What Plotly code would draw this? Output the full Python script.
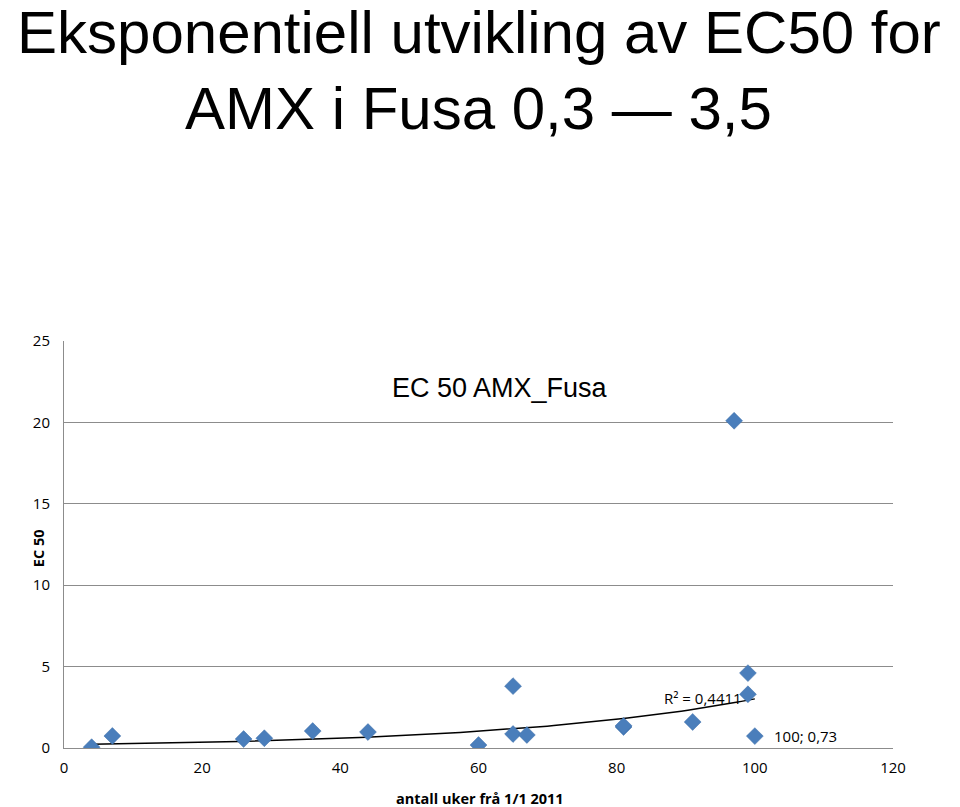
import numpy as np
import plotly.graph_objects as go

# EC50 per week since 1/1 2011
weeks = [4, 7, 26, 29, 36, 44, 60, 65, 65, 67, 81, 81, 91, 97, 99, 99, 100]
ec50 = [0.05, 0.74, 0.55, 0.6, 1.04, 0.98, 0.18, 3.8, 0.86, 0.8, 1.29, 1.36, 1.6, 20.1, 4.6, 3.3, 0.73]

x_ticks = [0, 20, 40, 60, 80, 100, 120]
y_ticks = [0, 5, 10, 15, 20, 25]

# exponential trendline (least squares on ln y, like Excel)
b, ln_a = np.polyfit(weeks, np.log(ec50), 1)
trend_x = np.linspace(min(weeks), max(weeks), 100)
trend_y = np.exp(ln_a) * np.exp(b * trend_x)

fig = go.Figure()
fig.add_trace(go.Scatter(
    x=trend_x, y=trend_y, mode='lines',
    line=dict(color='black', width=1.5), hoverinfo='skip', showlegend=False
))
fig.add_trace(go.Scatter(
    x=weeks, y=ec50, mode='markers',
    marker=dict(symbol='diamond', size=13, color='#4a7ebb',
                line=dict(color='#3f6fa8', width=0.5)),
    showlegend=False
))

title_font = 'Liberation Sans, Arial, sans-serif'

fig.update_layout(
    width=960, height=807,
    paper_bgcolor='white', plot_bgcolor='white',
    margin=dict(l=64, r=67, t=341, b=59, autoexpand=False),
    font=dict(family='Open Sans, sans-serif', size=14, color='black'),
    xaxis=dict(
        range=[0, 120], tickvals=x_ticks, showgrid=False, zeroline=False,
        showline=True, linecolor='#8c8c8c', linewidth=1, ticks='',
        tickfont=dict(size=15), ticklabelstandoff=6,
    ),
    yaxis=dict(
        range=[0, 25], tickvals=y_ticks, showgrid=True, gridcolor='#8c8c8c',
        gridwidth=1, zeroline=False, showline=True, linecolor='#8c8c8c',
        linewidth=1, ticks='', tickfont=dict(size=15), ticklabelstandoff=10,
    ),
    annotations=[
        dict(text='Eksponentiell utvikling av EC50 for', x=0.5, y=30, xref='paper',
             yref='paper', showarrow=False, xanchor='center', yanchor='middle',
             font=dict(family=title_font, size=60, color='black')),
        dict(text='AMX i Fusa 0,3 — 3,5', x=0.5, y=30, xref='paper',
             yref='paper', showarrow=False, xanchor='center', yanchor='middle',
             font=dict(family=title_font, size=60, color='black')),
        dict(text='EC 50 AMX_Fusa', x=0.526, y=0.885, xref='paper', yref='paper',
             showarrow=False, xanchor='center', yanchor='middle',
             font=dict(family=title_font, size=27, color='black')),
        dict(text='R² = 0,4411', x=98.5, y=3.1, xref='x', yref='y',
             showarrow=False, xanchor='right', yanchor='middle',
             font=dict(size=15, color='black')),
        dict(text='100; 0,73', x=102.5, y=0.73, xref='x', yref='y',
             showarrow=False, xanchor='left', yanchor='middle',
             font=dict(size=15, color='black')),
        dict(text='<b>EC 50</b>', x=-0.0314, y=0.491, xref='paper', yref='paper',
             showarrow=False, textangle=-90, xanchor='center', yanchor='middle',
             font=dict(size=14.5, color='black')),
        dict(text='<b>antall uker frå 1/1 2011</b>', x=0.502, y=-0.123, xref='paper',
             yref='paper', showarrow=False, xanchor='center', yanchor='middle',
             font=dict(size=14.5, color='black')),
    ],
)

# title lines: place by pixel row of their vertical middle
plot_top, plot_h = 341, 407
fig.layout.annotations[0].y = (plot_top + plot_h - 32) / plot_h
fig.layout.annotations[1].y = (plot_top + plot_h - 108) / plot_h

fig.write_html('out.html', config={'displayModeBar': False},
               post_script="document.body.style.margin='0';")
